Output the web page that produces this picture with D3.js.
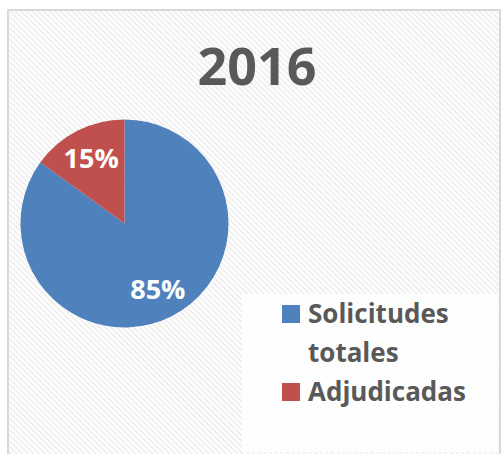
<!DOCTYPE html>
<html>
<head>
<meta charset="utf-8">
<script src="https://cdn.jsdelivr.net/npm/d3@7"></script>
<style>
  body { margin: 0; background: #fff; }
  text { font-family: "Open Sans", sans-serif; font-weight: bold; }
</style>
</head>
<body>
<script>
var categories = ["Solicitudes totales", "Adjudicadas"];
var values = [85, 15];
var colors = ["#4f81bd", "#c0504d"];
var legendLines = [["Solicitudes", "totales"], ["Adjudicadas"]];
var title = "2016";

var width = 503, height = 454;

var svg = d3.select("body").append("svg")
    .attr("width", width)
    .attr("height", height);

// diagonal hatch background
var pattern = svg.append("defs").append("pattern")
    .attr("id", "hatch")
    .attr("width", 4)
    .attr("height", 4)
    .attr("patternUnits", "userSpaceOnUse")
    .attr("patternTransform", "rotate(45)");
pattern.append("rect").attr("width", 4).attr("height", 4).attr("fill", "#ffffff");
pattern.append("rect").attr("width", 4).attr("height", 2).attr("fill", "#f0f0f0");

svg.append("rect")
    .attr("x", 8).attr("y", 10)
    .attr("width", 492).attr("height", 450)
    .attr("fill", "url(#hatch)")
    .attr("stroke", "#d9d9d9")
    .attr("stroke-width", 2);

svg.append("text")
    .attr("x", 257)
    .attr("y", 85)
    .attr("text-anchor", "middle")
    .style("font-size", "52px")
    .style("fill", "#595959")
    .text(title);

// pie
var cx = 124.5, cy = 223.5, r = 104;
var pie = d3.pie().sort(null)(values);
var arc = d3.arc().innerRadius(0).outerRadius(r);

var g = svg.append("g").attr("transform", "translate(" + cx + "," + cy + ")");
g.selectAll("path")
    .data(pie)
    .enter().append("path")
    .attr("d", arc)
    .attr("fill", function (d, i) { return colors[i]; });

var labelArc = d3.arc().innerRadius(0).outerRadius(r * 1.41);
g.selectAll(".lbl")
    .data(pie)
    .enter().append("text")
    .attr("class", "lbl")
    .attr("transform", function (d) {
        var c = labelArc.centroid(d);
        return "translate(" + c[0] + "," + c[1] + ")";
    })
    .attr("dy", "0.36em")
    .attr("text-anchor", "middle")
    .style("font-size", "27px")
    .style("fill", "#ffffff")
    .text(function (d) { return d.data + "%"; });

// legend
var legend = svg.append("g");
legend.append("rect")
    .attr("x", 242).attr("y", 294)
    .attr("width", 256).attr("height", 158)
    .attr("fill", "#ffffff")
    .attr("opacity", 0.85);

var rowY = [305, 383];
categories.forEach(function (c, i) {
    legend.append("rect")
        .attr("x", 282).attr("y", rowY[i])
        .attr("width", 18).attr("height", 18)
        .attr("fill", colors[i]);
    var t = legend.append("text")
        .attr("x", 308).attr("y", rowY[i] + 18)
        .style("font-size", "26px")
        .style("fill", "#595959");
    legendLines[i].forEach(function (line, j) {
        t.append("tspan")
            .attr("x", 308)
            .attr("dy", j === 0 ? 0 : 39)
            .text(line);
    });
});
</script>
</body>
</html>
